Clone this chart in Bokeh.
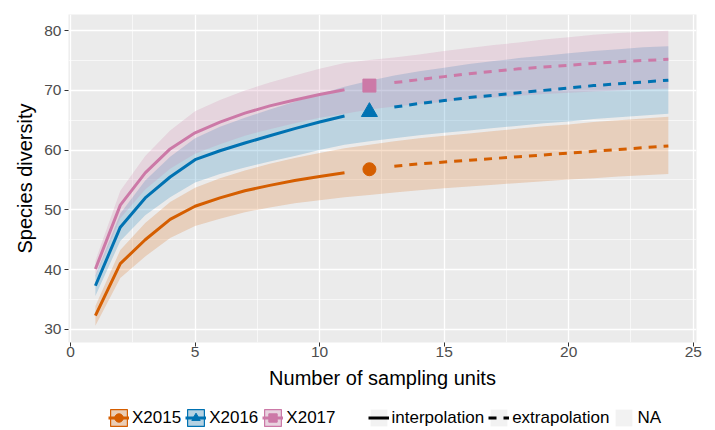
from bokeh.plotting import figure
from bokeh.layouts import column
from bokeh.models import Range1d, FixedTicker, Legend, LegendItem
from bokeh.embed import file_html
from bokeh.resources import INLINE

# ---------------- data ----------------
years = ["X2015", "X2016", "X2017"]
colors = ["#D55E00", "#0072B2", "#CC79A7"]
markers = ["circle", "triangle", "square"]

x_interp = [1, 2, 3, 4, 5, 6, 7, 8, 9, 10, 11]
x_obs = [12]
x_extrap = [13, 14, 15, 16, 17, 18, 19, 20, 21, 22, 23, 24]
x_band = list(range(1, 25))

div2015_interp = [32.3, 41.0, 45.0, 48.4, 50.6, 52.0, 53.2, 54.1, 54.9, 55.6, 56.2]
div2016_interp = [37.3, 47.1, 52.0, 55.5, 58.4, 59.9, 61.2, 62.4, 63.6, 64.7, 65.7]
div2017_interp = [40.1, 50.8, 56.2, 60.2, 62.9, 64.7, 66.2, 67.4, 68.4, 69.3, 70.1]

div2015_obs = [56.8]
div2016_obs = [66.4]
div2017_obs = [70.8]

div2015_extrap = [57.3, 57.7, 58.0, 58.3, 58.6, 58.9, 59.2, 59.5, 59.8, 60.1, 60.4, 60.7]
div2016_extrap = [67.2, 67.8, 68.3, 68.8, 69.2, 69.6, 70.0, 70.4, 70.8, 71.1, 71.4, 71.7]
div2017_extrap = [71.3, 71.8, 72.3, 72.8, 73.2, 73.6, 73.9, 74.2, 74.5, 74.8, 75.0, 75.2]

lo2015 = [30.6, 38.6, 42.2, 45.3, 47.3, 48.5, 49.6, 50.4, 51.1, 51.6, 52.1, 52.5,
          52.9, 53.3, 53.6, 53.9, 54.2, 54.5, 54.8, 55.1, 55.3, 55.6, 55.8, 56.0]
hi2015 = [33.9, 43.3, 47.8, 51.3, 53.7, 55.3, 56.6, 57.7, 58.7, 59.5, 60.3, 60.9,
          61.5, 62.0, 62.4, 62.8, 63.2, 63.6, 64.0, 64.3, 64.7, 65.0, 65.3, 65.6]
lo2016 = [35.6, 44.8, 49.1, 52.1, 54.6, 56.0, 57.1, 58.1, 59.0, 60.0, 60.9, 61.5,
          62.0, 62.5, 62.9, 63.3, 63.7, 64.1, 64.5, 64.8, 65.2, 65.5, 65.8, 66.1]
hi2016 = [39.0, 49.4, 54.9, 58.9, 62.0, 63.9, 65.4, 66.8, 68.1, 69.4, 70.6, 71.6,
          72.5, 73.2, 73.8, 74.4, 74.9, 75.4, 75.8, 76.2, 76.6, 76.9, 77.2, 77.4]
lo2017 = [38.8, 48.6, 53.4, 56.9, 59.4, 61.0, 62.4, 63.5, 64.5, 65.4, 66.1, 66.8,
          67.3, 67.7, 68.1, 68.5, 68.8, 69.1, 69.4, 69.6, 69.8, 70.0, 70.2, 70.3]
hi2017 = [41.5, 53.2, 59.0, 63.3, 66.5, 68.4, 70.0, 71.3, 72.5, 73.6, 74.6, 75.1,
          75.5, 76.0, 76.6, 77.1, 77.6, 78.0, 78.5, 78.9, 79.3, 79.6, 79.8, 80.0]

x_ticks = [0, 5, 10, 15, 20, 25]
x_minor = [2.5, 7.5, 12.5, 17.5, 22.5]
y_ticks = [30, 40, 50, 60, 70, 80]
y_minor = [35, 45, 55, 65, 75]

interp_list = [div2015_interp, div2016_interp, div2017_interp]
obs_list = [div2015_obs, div2016_obs, div2017_obs]
extrap_list = [div2015_extrap, div2016_extrap, div2017_extrap]
lo_list = [lo2015, lo2016, lo2017]
hi_list = [hi2015, hi2016, hi2017]

FONT = "Liberation Sans"

# ---------------- main figure ----------------
p = figure(width=715, height=394,
           output_backend="svg", toolbar_location=None,
           x_range=Range1d(-0.08, 25.13), y_range=Range1d(27.8, 82.7),
           min_border_left=68, min_border_right=19, min_border_top=14,
           min_border_bottom=52,
           background_fill_color="#EBEBEB", border_fill_color="white",
           outline_line_color=None)

p.xaxis.ticker = FixedTicker(ticks=x_ticks, minor_ticks=x_minor)
p.yaxis.ticker = FixedTicker(ticks=y_ticks, minor_ticks=y_minor)

for g in (p.xgrid, p.ygrid):
    g.grid_line_color = "white"
    g.grid_line_width = 1.3
    g.minor_grid_line_color = "white"
    g.minor_grid_line_width = 0.6

p.axis.axis_line_color = None
p.axis.major_tick_line_color = "#333333"
p.axis.major_tick_line_width = 1
p.axis.major_tick_out = 4
p.axis.major_tick_in = 0
p.axis.minor_tick_out = 0
p.axis.minor_tick_in = 0
p.axis.major_label_text_font = FONT
p.axis.major_label_text_font_size = "15.5px"
p.axis.major_label_text_color = "#4D4D4D"
p.axis.axis_label_text_font = FONT
p.axis.axis_label_text_font_size = "20px"
p.axis.axis_label_text_font_style = "normal"
p.axis.axis_label_text_color = "black"
p.xaxis.major_label_standoff = 0
p.xaxis.axis_label_standoff = 7
p.yaxis.major_label_standoff = 3
p.yaxis.axis_label_standoff = 5
p.xaxis.axis_label = "Number of sampling units"
p.yaxis.axis_label = "Species diversity"

# ribbons
for c, lo, hi in zip(colors, lo_list, hi_list):
    p.varea(x=x_band, y1=lo, y2=hi, fill_color=c, fill_alpha=0.2)

# lines and points
for c, m, yi, yo, ye in zip(colors, markers, interp_list, obs_list, extrap_list):
    p.line(x_interp, yi, line_color=c, line_width=3)
    p.line(x_extrap, ye, line_color=c, line_width=3, line_dash="8 7")
    size = 16 if m == "triangle" else 13
    p.scatter(x_obs, yo, marker=m, size=size, fill_color=c, line_color=c)

# ---------------- legend strip ----------------
lg = figure(width=715, height=36, output_backend="svg", toolbar_location=None,
            x_range=Range1d(0, 1), y_range=Range1d(0, 1),
            x_axis_type=None, y_axis_type=None, min_border=0,
            background_fill_color="white", border_fill_color="white",
            outline_line_color=None)
lg.grid.visible = False

items = []
for c, m, yr in zip(colors, markers, years):
    bg = lg.quad(left=[-10], right=[-9], bottom=[0], top=[1],
                 fill_color="#F2F2F2", line_color=None)
    bx = lg.quad(left=[-10], right=[-9], bottom=[0], top=[1],
                 fill_color=c, fill_alpha=0.25, line_color=c, line_width=1.2)
    ln = lg.line([-10, -9], [0, 0], line_color=c, line_width=3)
    pt = lg.scatter([-10], [0], marker=m, fill_color=c, line_color=c)
    items.append(LegendItem(label=yr, renderers=[bg, bx, ln, pt]))

sp = lg.quad(left=[-10], right=[-9], bottom=[0], top=[1],
             fill_alpha=0, line_alpha=0)
items.append(LegendItem(label=" ", renderers=[sp]))

bg1 = lg.quad(left=[-10], right=[-9], bottom=[0], top=[1], fill_color="#F2F2F2", line_color=None)
l1 = lg.line([-10, -9], [0, 0], line_color="black", line_width=3)
items.append(LegendItem(label="interpolation", renderers=[bg1, l1]))
bg2 = lg.quad(left=[-10], right=[-9], bottom=[0], top=[1], fill_color="#F2F2F2", line_color=None)
l2 = lg.line([-10, -9], [0, 0], line_color="black", line_width=3, line_dash="8 7")
items.append(LegendItem(label="extrapolation", renderers=[bg2, l2]))
bg3 = lg.quad(left=[-10], right=[-9], bottom=[0], top=[1], fill_color="#F2F2F2", line_color=None)
items.append(LegendItem(label="NA", renderers=[bg3]))

legend = Legend(items=items, orientation="horizontal", location=(40, 2),
                glyph_width=21, glyph_height=21, label_standoff=3, spacing=4,
                padding=0, margin=0, border_line_alpha=0, background_fill_alpha=0,
                label_text_font=FONT, label_text_font_size="17px",
                label_text_color="black", label_width=0, label_height=0)
lg.add_layout(legend, "center")

layout = column(p, lg, spacing=0)
open("out.html", "w").write(file_html(layout, INLINE))
